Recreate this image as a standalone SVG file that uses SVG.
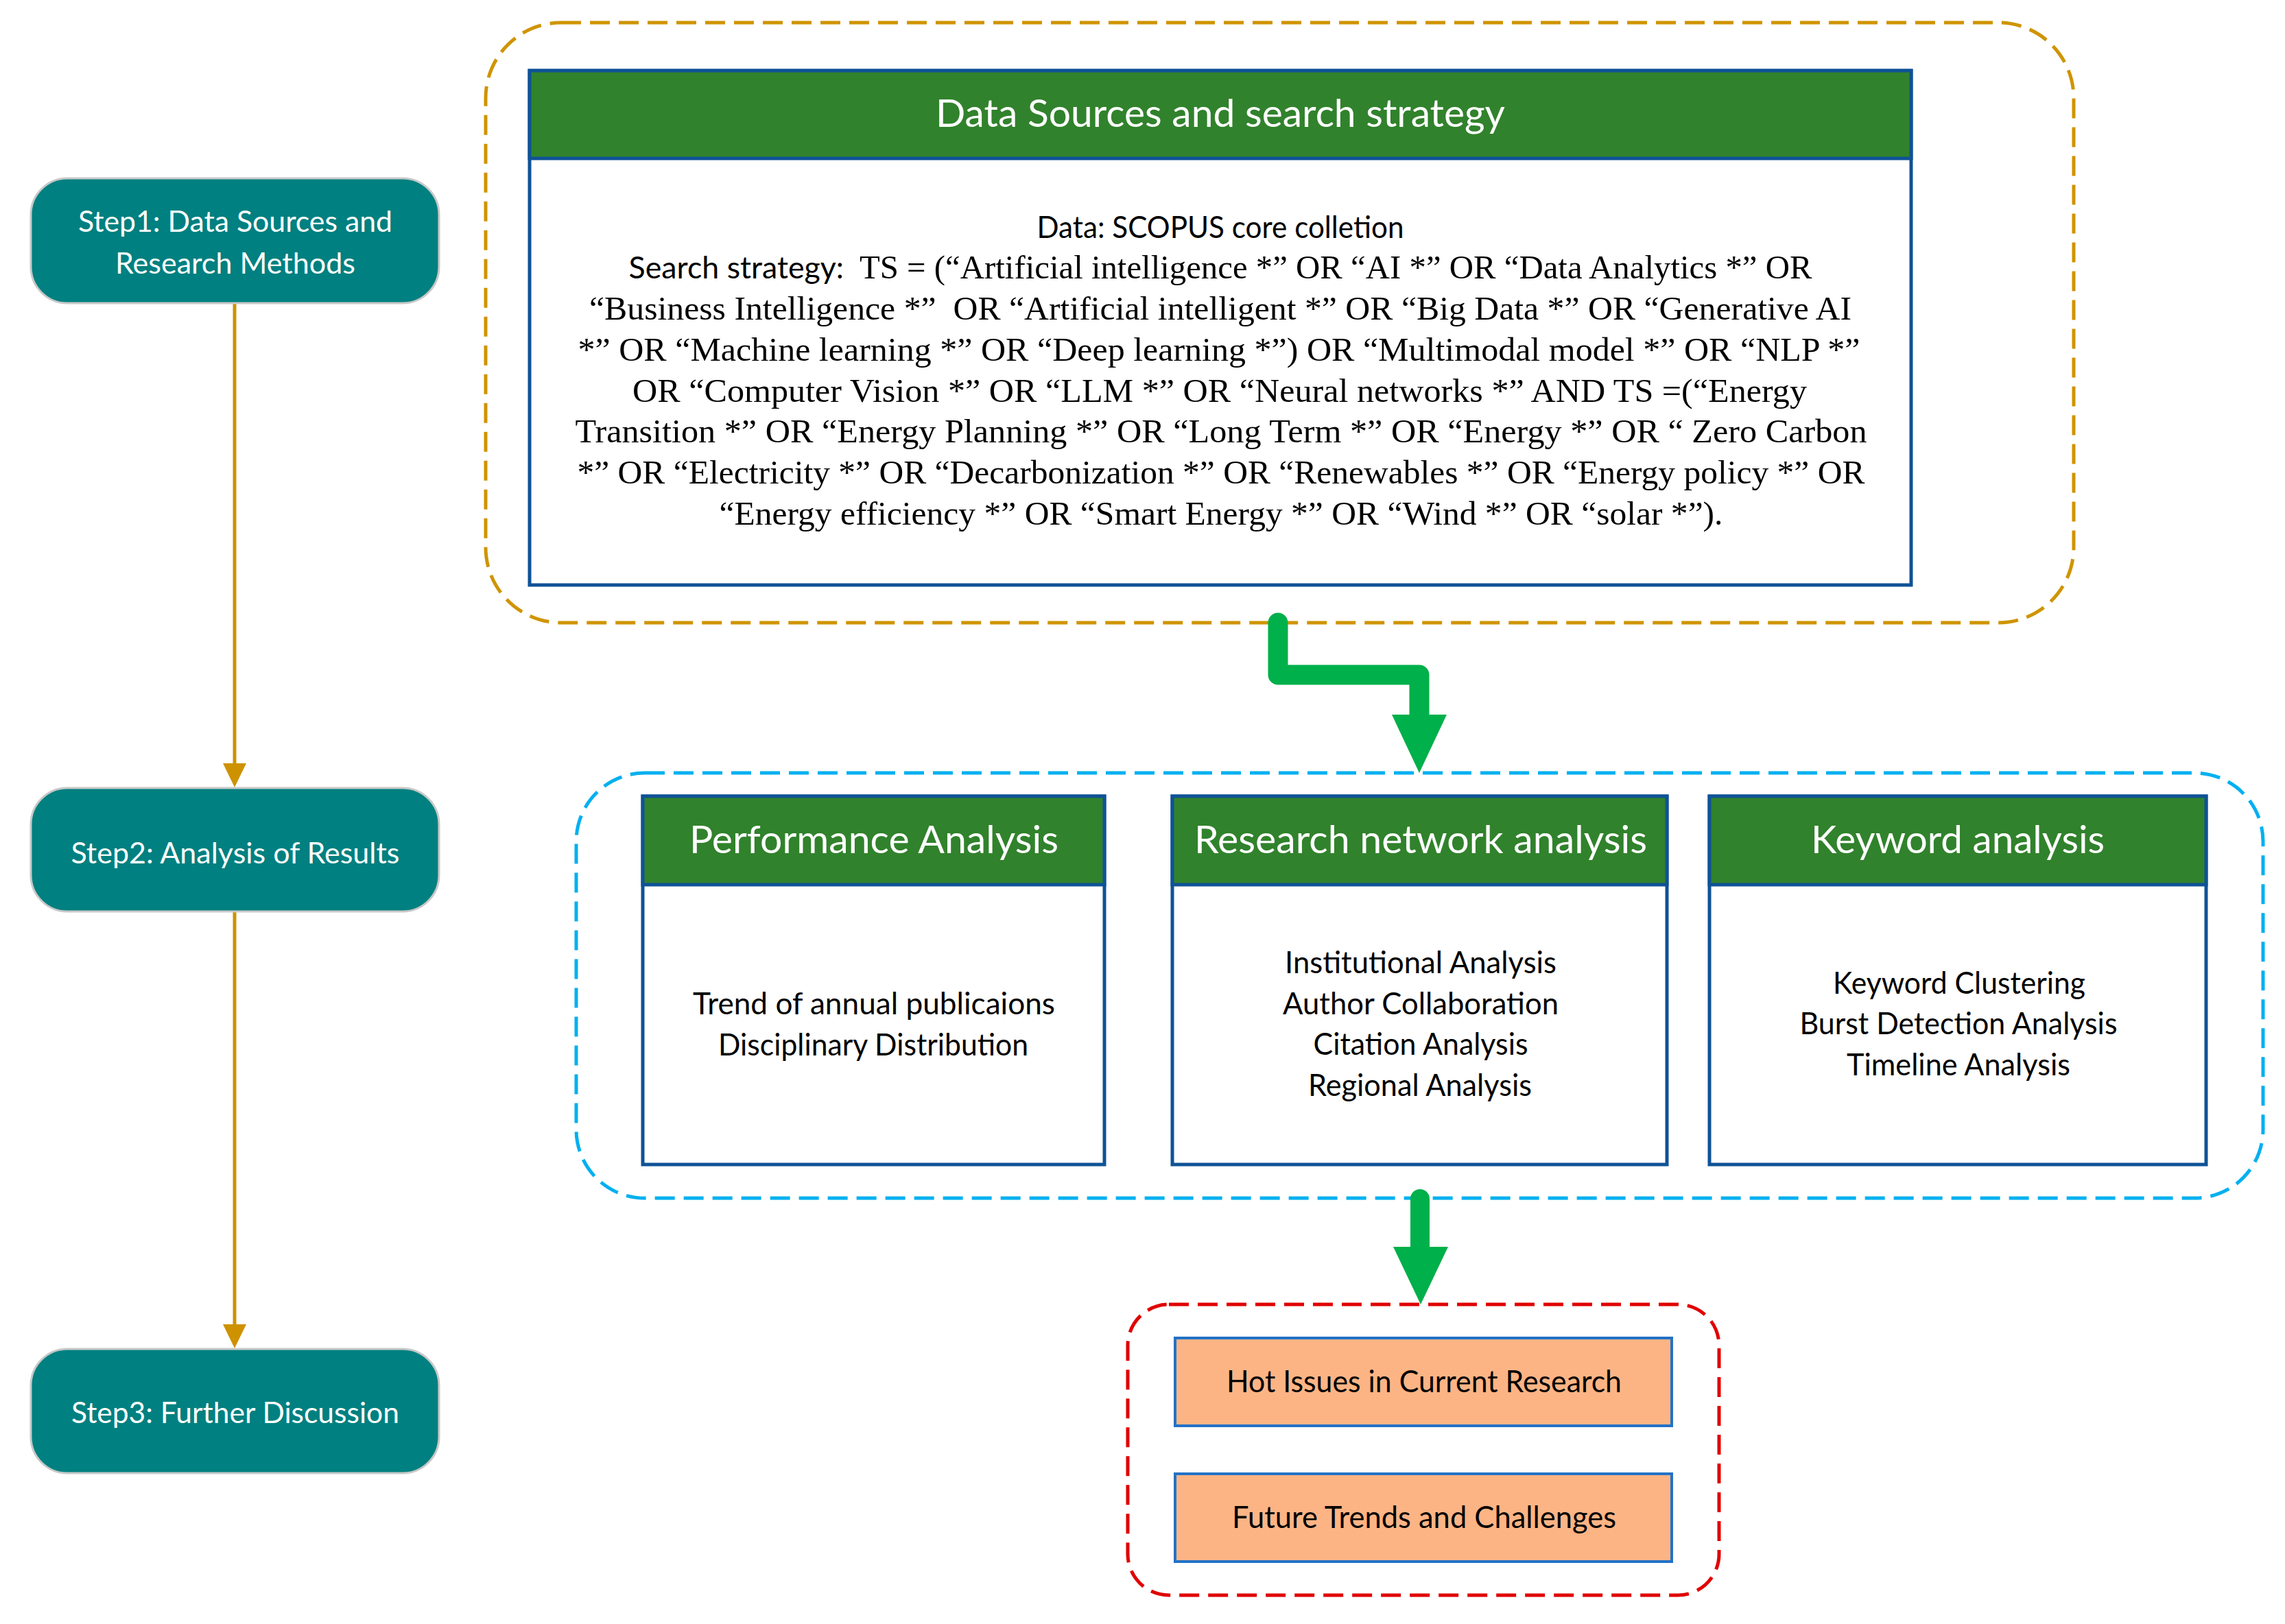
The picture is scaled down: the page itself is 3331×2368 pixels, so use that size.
<svg xmlns="http://www.w3.org/2000/svg" width="3331" height="2368" viewBox="0 0 3331 2368">
<style>
.cal{font-family:Lato,"Open Sans","Liberation Sans",sans-serif}
.ser{font-family:"Liberation Serif","Times New Roman",serif}
.step rect{fill:#008080;stroke:#C8C8C8;stroke-width:3}
.step text{fill:#FFFFFF;font-size:43px;text-anchor:middle}
.hdr{fill:#31822C;stroke:#0F5296;stroke-width:5}
.card{fill:#FFFFFF;stroke:#0F5296;stroke-width:5}
.htxt{fill:#FFFFFF;font-size:56px;text-anchor:middle}
.btxt{fill:#000000;font-size:44px;text-anchor:middle}
.stxt{fill:#000000;font-size:48px;text-anchor:middle}
.dash{fill:none;stroke-width:5;stroke-dasharray:29 13}
.obox{fill:#FDB485;stroke:#2272C6;stroke-width:4}
.garrow{fill:none;stroke:#00B04A;stroke-linecap:round;stroke-linejoin:round}
.ghead{fill:#00B04A}
.yline{stroke:#CE9200;stroke-width:5}
.yhead{fill:#CE9200}
</style>
<rect width="3331" height="2368" fill="#FFFFFF"/>

<g id="group-top">
<rect class="dash" x="708" y="33" width="2315" height="875" rx="110" ry="110" stroke="#CF9400"/>
</g>
<g id="group-mid">
<rect class="dash" x="840" y="1127" width="2459" height="620" rx="100" ry="100" stroke="#00B0F0"/>
</g>
<g id="group-bottom">
<rect class="dash" x="1644" y="1902" width="862" height="424" rx="60" ry="60" stroke="#E00000"/>
</g>

<g id="connectors">
<line class="yline" x1="342" y1="442" x2="342" y2="1116"/>
<polygon class="yhead" points="325,1113 359,1113 342,1148"/>
<line class="yline" x1="342" y1="1329" x2="342" y2="1934"/>
<polygon class="yhead" points="325,1931 359,1931 342,1966"/>
<path class="garrow" d="M1863,908 V984 H2069 V1046" stroke-width="29"/>
<polygon class="ghead" points="2029,1042 2109,1042 2069,1127"/>
<path class="garrow" d="M2070,1748 V1822" stroke-width="28"/>
<polygon class="ghead" points="2031,1818 2111,1818 2071,1902"/>
</g>

<g id="step1" class="step">
<rect x="45" y="260" width="595" height="182" rx="53" ry="53"/>
<text class="cal" x="343" y="338" textLength="458" lengthAdjust="spacingAndGlyphs">Step1: Data Sources and</text>
<text class="cal" x="343" y="399" textLength="350" lengthAdjust="spacingAndGlyphs">Research Methods</text>
</g>
<g id="step2" class="step">
<rect x="45" y="1149" width="595" height="180" rx="53" ry="53"/>
<text class="cal" x="343" y="1259" textLength="479" lengthAdjust="spacingAndGlyphs">Step2: Analysis of Results</text>
</g>
<g id="step3" class="step">
<rect x="45" y="1967" width="595" height="181" rx="53" ry="53"/>
<text class="cal" x="343" y="2075" textLength="478" lengthAdjust="spacingAndGlyphs">Step3: Further Discussion</text>
</g>

<g id="data-sources">
<rect class="card" x="772" y="103" width="2014" height="750"/>
<rect class="hdr" x="772" y="103" width="2014" height="128"/>
<text class="cal htxt" x="1779" y="185" textLength="830" lengthAdjust="spacingAndGlyphs">Data Sources and search strategy</text>
<text class="cal btxt" x="1779" y="347" textLength="535" lengthAdjust="spacingAndGlyphs">Data: SCOPUS core colletion</text>
<text class="stxt" x="1779" y="406" textLength="1725" lengthAdjust="spacingAndGlyphs"><tspan class="cal" font-size="44">Search strategy:&#160; </tspan><tspan class="ser">TS = (“Artificial intelligence *” OR “AI *” OR “Data Analytics *” OR</tspan></text>
<text class="ser stxt" x="1779" y="466" textLength="1840" lengthAdjust="spacingAndGlyphs">“Business Intelligence *”&#160; OR “Artificial intelligent *” OR “Big Data *” OR “Generative AI</text>
<text class="ser stxt" x="1777" y="526" textLength="1869" lengthAdjust="spacingAndGlyphs">*” OR “Machine learning *” OR “Deep learning *”) OR “Multimodal model *” OR “NLP *”</text>
<text class="ser stxt" x="1778" y="586" textLength="1712" lengthAdjust="spacingAndGlyphs">OR “Computer Vision *” OR “LLM *” OR “Neural networks *” AND TS =(“Energy</text>
<text class="ser stxt" x="1780" y="645" textLength="1883" lengthAdjust="spacingAndGlyphs">Transition *” OR “Energy Planning *” OR “Long Term *” OR “Energy *” OR “ Zero Carbon</text>
<text class="ser stxt" x="1780" y="705" textLength="1877" lengthAdjust="spacingAndGlyphs">*” OR “Electricity *” OR “Decarbonization *” OR “Renewables *” OR “Energy policy *” OR</text>
<text class="ser stxt" x="1780" y="765" textLength="1463" lengthAdjust="spacingAndGlyphs">“Energy efficiency *” OR “Smart Energy *” OR “Wind *” OR “solar *”).</text>
</g>

<g id="performance-analysis">
<rect class="card" x="937" y="1161" width="673" height="537"/>
<rect class="hdr" x="937" y="1161" width="673" height="129"/>
<text class="cal htxt" x="1274" y="1244" textLength="538" lengthAdjust="spacingAndGlyphs">Performance Analysis</text>
<text class="cal btxt" x="1274" y="1479" textLength="528" lengthAdjust="spacingAndGlyphs">Trend of annual publicaions</text>
<text class="cal btxt" x="1273" y="1539" textLength="452" lengthAdjust="spacingAndGlyphs">Disciplinary Distribution</text>
</g>
<g id="research-network-analysis">
<rect class="card" x="1709" y="1161" width="721" height="537"/>
<rect class="hdr" x="1709" y="1161" width="721" height="129"/>
<text class="cal htxt" x="2071" y="1244" textLength="660" lengthAdjust="spacingAndGlyphs">Research network analysis</text>
<text class="cal btxt" x="2071" y="1419" textLength="396" lengthAdjust="spacingAndGlyphs">Institutional Analysis</text>
<text class="cal btxt" x="2071" y="1479" textLength="402" lengthAdjust="spacingAndGlyphs">Author Collaboration</text>
<text class="cal btxt" x="2071" y="1538" textLength="313" lengthAdjust="spacingAndGlyphs">Citation Analysis</text>
<text class="cal btxt" x="2070" y="1598" textLength="326" lengthAdjust="spacingAndGlyphs">Regional Analysis</text>
</g>
<g id="keyword-analysis">
<rect class="card" x="2492" y="1161" width="724" height="537"/>
<rect class="hdr" x="2492" y="1161" width="724" height="129"/>
<text class="cal htxt" x="2854" y="1244" textLength="428" lengthAdjust="spacingAndGlyphs">Keyword analysis</text>
<text class="cal btxt" x="2856" y="1449" textLength="368" lengthAdjust="spacingAndGlyphs">Keyword Clustering</text>
<text class="cal btxt" x="2855" y="1508" textLength="463" lengthAdjust="spacingAndGlyphs">Burst Detection Analysis</text>
<text class="cal btxt" x="2855" y="1568" textLength="326" lengthAdjust="spacingAndGlyphs">Timeline Analysis</text>
</g>

<g id="hot-issues">
<rect class="obox" x="1713" y="1951" width="724" height="128"/>
<text class="cal btxt" x="2076" y="2030" textLength="576" lengthAdjust="spacingAndGlyphs">Hot Issues in Current Research</text>
</g>
<g id="future-trends">
<rect class="obox" x="1713" y="2149" width="724" height="128"/>
<text class="cal btxt" x="2076" y="2228" textLength="560" lengthAdjust="spacingAndGlyphs">Future Trends and Challenges</text>
</g>
</svg>
